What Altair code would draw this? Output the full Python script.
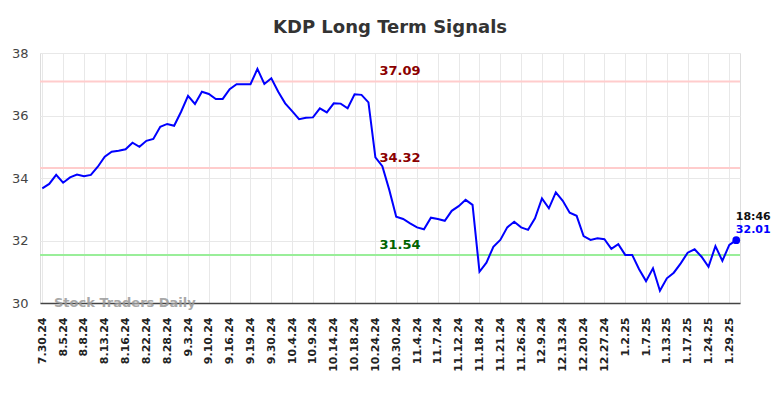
import altair as alt
import pandas as pd

# ---- data ----
tick_labels = ["7.30.24", "8.5.24", "8.8.24", "8.13.24", "8.16.24", "8.22.24", "8.28.24",
               "9.3.24", "9.10.24", "9.16.24", "9.19.24", "9.30.24", "10.4.24", "10.9.24",
               "10.14.24", "10.18.24", "10.24.24", "10.30.24", "11.4.24", "11.7.24",
               "11.12.24", "11.18.24", "11.21.24", "11.26.24", "12.9.24", "12.13.24",
               "12.20.24", "12.27.24", "1.2.25", "1.7.25", "1.13.25", "1.17.25",
               "1.24.25", "1.29.25"]

prices = [33.67, 33.81, 34.10, 33.85, 34.02, 34.11, 34.06, 34.10, 34.36, 34.68,
          34.84, 34.87, 34.92, 35.13, 35.00, 35.19, 35.25, 35.64, 35.73, 35.67,
          36.12, 36.63, 36.37, 36.76, 36.69, 36.53, 36.53, 36.84, 37.00, 37.00,
          37.00, 37.49, 37.01, 37.19, 36.76, 36.39, 36.14, 35.88, 35.93, 35.94,
          36.23, 36.10, 36.39, 36.38, 36.23, 36.68, 36.66, 36.42, 34.66, 34.38,
          33.62, 32.76, 32.69, 32.55, 32.42, 32.36, 32.73, 32.69, 32.63, 32.95,
          33.10, 33.30, 33.14, 31.00, 31.29, 31.80, 32.02, 32.42, 32.60, 32.42,
          32.34, 32.71, 33.35, 33.03, 33.54, 33.27, 32.89, 32.79, 32.14, 32.02,
          32.07, 32.04, 31.73, 31.88, 31.54, 31.54, 31.08, 30.70, 31.11, 30.39,
          30.79, 30.97, 31.27, 31.61, 31.72, 31.48, 31.16, 31.82, 31.35, 31.86,
          32.01]

level_values = [37.09, 34.32, 31.54]
level_labels = ["37.09", "34.32", "31.54"]
level_kind = ["res", "res", "sup"]

last_time = "18:46"
title_text = "KDP Long Term Signals"
watermark = "Stock Traders Daily"

# ---- tables ----
df = pd.DataFrame({"i": list(range(len(prices))), "price": prices})
lv = pd.DataFrame({"v": level_values, "lab": level_labels, "kind": level_kind})
last = df.tail(1).assign(t=last_time, lab=f"{prices[-1]:.2f}")

label_arr = "[" + ",".join(f"'{l}'" for l in tick_labels) + "]"

xscale = alt.Scale(domain=[-0.33, 100.54], nice=False, zero=False)
yscale = alt.Scale(domain=[30, 38], nice=False, zero=False)

x_axis = alt.Axis(values=list(range(0, 3 * len(tick_labels), 3)),
                  labelExpr=f"{label_arr}[round(datum.value/3)]",
                  labelAngle=270, labelFontSize=11, labelFontWeight="bold",
                  labelColor="#222", labelPadding=14, ticks=False,
                  domainColor="#444", domainWidth=1.5,
                  gridColor="#e8e8e8", gridWidth=1, title=None, labelFlush=False,
                  labelOverlap=False, labelBound=False)
y_axis = alt.Axis(values=[30, 32, 34, 36, 38], labelFontSize=13, labelColor="#444",
                  labelPadding=12, ticks=False, domain=False,
                  gridColor="#e8e8e8", gridWidth=1, title=None,
                  labelFont="DejaVu Sans")

X = alt.X("i:Q", scale=xscale, axis=x_axis)
Y = alt.Y("price:Q", scale=yscale, axis=y_axis)
YL = alt.Y("v:Q", scale=yscale, axis=y_axis)

line = alt.Chart(df).mark_line(color="#0000ff", strokeWidth=2).encode(x=X, y=Y)

rules = alt.Chart(lv).mark_rule(strokeWidth=2).encode(
    y=YL,
    color=alt.Color("kind:N", scale=alt.Scale(domain=["res", "sup"],
                                              range=["#ffcccc", "#99ee99"]), legend=None),
)

level_text = alt.Chart(lv).mark_text(fontSize=13, fontWeight="bold", baseline="bottom",
                                     dy=-3, font="DejaVu Sans").encode(
    x=alt.value(360),
    y=YL,
    text="lab:N",
    color=alt.Color("kind:N", scale=alt.Scale(domain=["res", "sup"],
                                              range=["#8b0000", "#006400"]), legend=None),
)

dot = alt.Chart(last).mark_point(filled=True, size=60, color="#0000ff", opacity=1).encode(
    x=X, y=Y)

t_time = alt.Chart(last).mark_text(fontSize=11, fontWeight="bold", color="#111",
                                   dx=17, dy=-23, font="DejaVu Sans").encode(
    x=X, y=Y, text="t:N")
t_val = alt.Chart(last).mark_text(fontSize=11, fontWeight="bold", color="#0000ff",
                                  dx=17, dy=-10, font="DejaVu Sans").encode(
    x=X, y=Y, text="lab:N")

wm = alt.Chart(pd.DataFrame({"w": [watermark]})).mark_text(
    fontSize=13, fontWeight="bold", color="#999", opacity=0.85, align="left",
    baseline="alphabetic", font="DejaVu Sans").encode(
    x=alt.value(14), y=alt.value(254), text="w:N")

chart = alt.layer(rules, line, level_text, wm, dot, t_time, t_val).resolve_scale(
    color="independent"
).properties(
    width=700, height=250,
    autosize=alt.AutoSizeParams(type="none"),
    padding={"left": 32, "top": 45, "right": 36, "bottom": 87},
    title=alt.TitleParams(title_text, fontSize=18, fontWeight="bold", color="#333",
                          font="DejaVu Sans", anchor="middle", offset=10),
).configure_view(stroke=None).configure(font="DejaVu Sans")

chart.save("out.html", embed_options={"renderer": "svg", "actions": False})
